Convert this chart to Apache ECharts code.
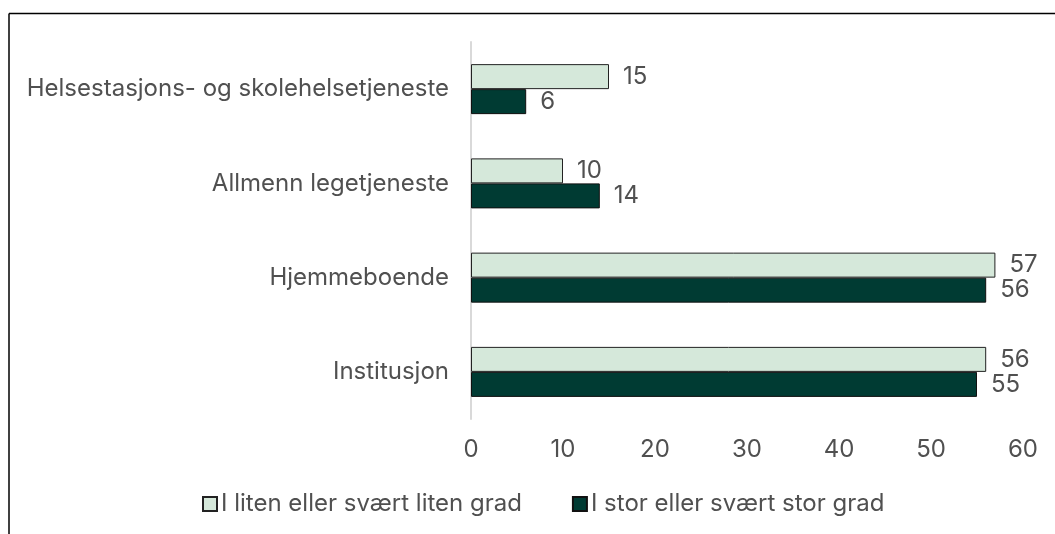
<!DOCTYPE html>
<html>
<head>
<meta charset="utf-8">
<script src="https://cdn.jsdelivr.net/npm/echarts@6/dist/echarts.min.js"></script>
<style>
  html, body { margin: 0; padding: 0; background: #fff; }
  #chart { width: 1055px; height: 534px; }
</style>
</head>
<body>
<div id="chart"></div>
<script>
// kategorier (fra topp til bunn)
const categories = ['Helsestasjons- og skolehelsetjeneste', 'Allmenn legetjeneste', 'Hjemmeboende', 'Institusjon'];
const litenGrad = [15, 10, 57, 56]; // I liten eller svært liten grad
const storGrad = [6, 14, 56, 55];   // I stor eller svært stor grad
const xTicks = [0, 60, 10];         // min, max, interval

const chart = echarts.init(document.getElementById('chart'));

const textColor = '#505050';
const labelStyle = {
  show: true,
  position: 'right',
  distance: 14,
  color: textColor,
  fontSize: 24,
  fontFamily: 'Inter'
};

const option = {
  animation: false,
  textStyle: { fontFamily: 'Inter' },
  graphic: [
    // ramme (kun topp og venstre synlig)
    { type: 'line', shape: { x1: 9, y1: 13.5, x2: 1055, y2: 13.5 }, style: { stroke: '#000', lineWidth: 1.5 } },
    { type: 'line', shape: { x1: 9, y1: 13.5, x2: 9, y2: 534 }, style: { stroke: '#000', lineWidth: 1.5 } }
  ],
  grid: { left: 471, right: 32, top: 42, bottom: 115, containLabel: false },
  legend: {
    bottom: 13,
    left: 197,
    itemWidth: 14,
    itemHeight: 14,
    itemGap: 50,
    icon: 'rect',
    textStyle: { color: textColor, fontSize: 24, fontFamily: 'Inter', padding: [0, 0, 0, -1] },
    data: ['I liten eller svært liten grad', 'I stor eller svært stor grad']
  },
  xAxis: {
    type: 'value',
    min: xTicks[0],
    max: xTicks[1],
    interval: xTicks[2],
    splitLine: { show: false },
    axisLine: { show: false },
    axisTick: { show: false },
    axisLabel: { color: textColor, fontSize: 24, margin: 19 }
  },
  yAxis: {
    type: 'category',
    inverse: true,
    data: categories,
    axisLine: { show: true, lineStyle: { color: '#d9d9d9', width: 2 } },
    axisTick: { show: false },
    axisLabel: { color: textColor, fontSize: 24, margin: 22 }
  },
  series: [
    {
      name: 'I liten eller svært liten grad',
      type: 'bar',
      data: litenGrad,
      barWidth: 25,
      barGap: '0%',
      itemStyle: { color: '#d5e8da', borderColor: '#222', borderWidth: 1 },
      label: labelStyle
    },
    {
      name: 'I stor eller svært stor grad',
      type: 'bar',
      data: storGrad,
      barWidth: 25,
      barGap: '0%',
      itemStyle: { color: '#003b33', borderColor: '#111', borderWidth: 1 },
      label: labelStyle
    }
  ]
};

chart.setOption(option);
</script>
</body>
</html>
